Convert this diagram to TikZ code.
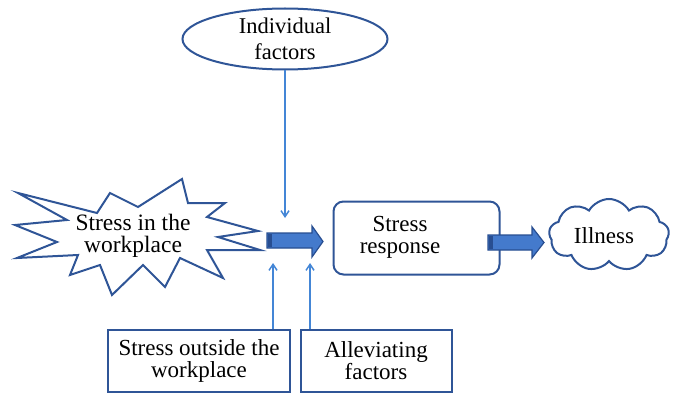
\documentclass[tikz,border=0pt]{standalone}
\usepackage{fontspec}
\setmainfont{Liberation Serif}
\usetikzlibrary{shapes.geometric,shapes.symbols,arrows.meta}
\definecolor{outline}{RGB}{47,85,151}
\definecolor{thinblue}{RGB}{68,134,214}
\definecolor{arrowfill}{RGB}{68,122,204}
\definecolor{arrowdark}{RGB}{40,78,145}
\begin{document}
\begin{tikzpicture}[x=1pt,y=-1pt,
  shapeline/.style={draw=outline,line width=2pt},
  lbl/.style={align=center,font=\fontsize{23}{22}\selectfont,inner sep=0pt},
  thinarrow/.style={draw=thinblue,line width=1.5pt,-{Straight Barb[length=6pt,width=8pt,line width=1.5pt]}},
  blockarrow/.style={fill=arrowfill,draw=arrowdark,line width=1.2pt,line join=miter}]
\useasboundingbox (0,0) rectangle (674,393);

% starburst
\draw[shapeline,line join=miter,fill=white]
  (18,193) -- (97,213) -- (110,193) -- (138,207) -- (182,179) -- (188,203)
  -- (225,203) -- (207,217) -- (258,231) -- (218,237) -- (260,250) -- (207,250)
  -- (223,278) -- (180,258) -- (165,287) -- (143,265) -- (112,295) -- (100,265)
  -- (70,275) -- (78,255) -- (17,258) -- (57,242) -- (15,225) -- (67,220) -- cycle;
\node[lbl,font=\fontsize{23.5}{22.5}\selectfont] (stress) at (133,236) {Stress in the\\workplace};

% individual factors
\node[ellipse,shapeline,minimum width=205pt,minimum height=61pt,inner sep=0pt,
      align=center,font=\fontsize{22.5}{26.5}\selectfont] (indiv) at (285,39) {Individual\\factors};

% stress response
\node[shapeline,rounded corners=10pt,minimum width=166pt,minimum height=73pt] (resp) at (416.5,238) {};
\node[lbl] (resptext) at (400,237) {Stress\\response};

% illness
\node[cloud,shapeline,cloud puffs=9,cloud puff arc=120,aspect=1.65,minimum width=120pt,minimum height=72pt,inner sep=0pt] (ill) at (609,235) {};
\node[lbl] (illtext) at (604,236) {Illness};

% bottom boxes
\node[shapeline,lbl,minimum width=182pt,minimum height=62pt] (outside) at (199,360.5) {Stress outside the\\workplace};
\node[shapeline,lbl,minimum width=151pt,minimum height=62pt] (allev) at (376,360.5) {Alleviating\\factors};

% thin arrows
\coordinate (downend) at (285,218);
\coordinate (upa) at (273,263);
\coordinate (upb) at (310,263);
\draw[thinarrow] (indiv.south) -- (downend);
\draw[thinarrow] (outside.north -| upa) -- (upa);
\draw[thinarrow] (allev.north -| upb) -- (upb);

% block arrows
\draw[blockarrow] (267,233) -- (312,233) -- (312,226) -- (323,241.5) -- (312,257) -- (312,248) -- (267,248) -- cycle;
\fill[arrowdark] (267.6,233.6) rectangle (271.5,247.4);
\draw[blockarrow] (488,235) -- (532,235) -- (532,227) -- (544,242.5) -- (532,258) -- (532,250) -- (488,250) -- cycle;
\fill[arrowdark] (488.6,235.6) rectangle (492.5,249.4);
\end{tikzpicture}
\end{document}
